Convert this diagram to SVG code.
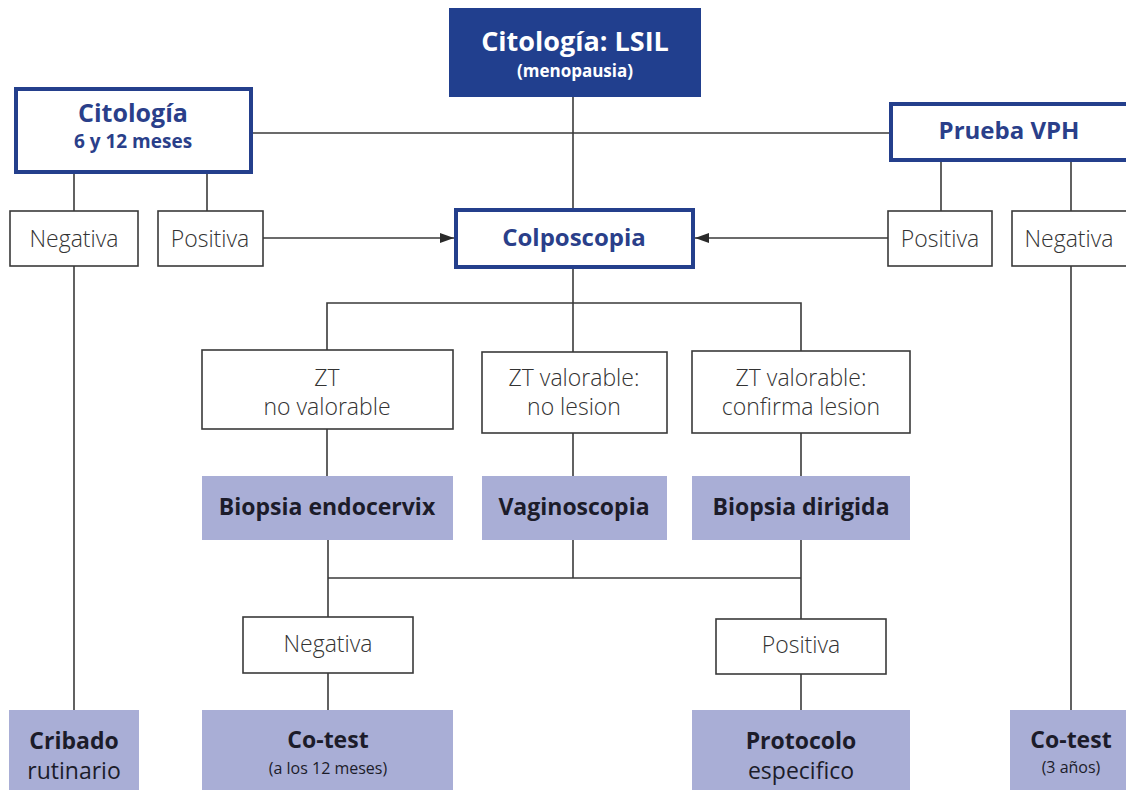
<svg xmlns="http://www.w3.org/2000/svg" width="1126" height="790" viewBox="0 0 1126 790">
  <style>
    .bg { fill: #ffffff; }
    .lead { fill: #213f8e; }
    .blue { fill: #ffffff; stroke: #243f8c; stroke-width: 4; }
    .plain { fill: #ffffff; stroke: #3a3a3a; stroke-width: 1.6; }
    .act { fill: #a9aed6; }
    .conn { fill: none; stroke: #3a3a3a; stroke-width: 1.6; }
    text { font-family: "Open Sans", "Noto Sans", "Liberation Sans", sans-serif; text-anchor: middle; }
    .tw { fill: #ffffff; font-weight: 700; }
    .tb { fill: #2a3f8a; font-weight: 700; }
    .tl { fill: #333333; font-weight: 300; font-size: 23px; }
    .td { fill: #1c1c2a; font-weight: 700; font-size: 23px; font-stretch: 93%; }
    .tr { fill: #1c1c2a; font-weight: 400; }
  </style>
  <defs>
    <marker id="arrow" viewBox="0 0 14 10" refX="14" refY="5" markerWidth="14" markerHeight="10" markerUnits="userSpaceOnUse" orient="auto">
      <path d="M0,0 L14,5 L0,10 Z" fill="#2a2a2a"/>
    </marker>
  </defs>
  <rect class="bg" x="0" y="0" width="1126" height="790"/>

  <g id="connectors">
    <!-- top level -->
    <line class="conn" x1="573" y1="97" x2="573" y2="208"/>
    <line class="conn" x1="253" y1="133" x2="889" y2="133"/>
    <!-- Citología branches -->
    <line class="conn" x1="74" y1="174" x2="74" y2="211"/>
    <line class="conn" x1="207" y1="174" x2="207" y2="211"/>
    <line class="conn" x1="74" y1="266" x2="74" y2="710"/>
    <line class="conn" x1="263" y1="238" x2="454" y2="238" marker-end="url(#arrow)"/>
    <!-- Prueba VPH branches -->
    <line class="conn" x1="941" y1="162" x2="941" y2="211"/>
    <line class="conn" x1="1071" y1="162" x2="1071" y2="211"/>
    <line class="conn" x1="1071" y1="266" x2="1071" y2="710"/>
    <line class="conn" x1="888" y1="238" x2="695" y2="238" marker-end="url(#arrow)"/>
    <!-- Colposcopia split -->
    <polyline class="conn" points="573,269 573,303"/>
    <polyline class="conn" points="327,350 327,303 801,303 801,351"/>
    <line class="conn" x1="573" y1="303" x2="573" y2="352"/>
    <!-- to procedures -->
    <line class="conn" x1="327" y1="429" x2="327" y2="476"/>
    <line class="conn" x1="573" y1="433" x2="573" y2="476"/>
    <line class="conn" x1="801" y1="433" x2="801" y2="476"/>
    <!-- merge of results -->
    <line class="conn" x1="573" y1="540" x2="573" y2="578"/>
    <line class="conn" x1="328" y1="540" x2="328" y2="617"/>
    <line class="conn" x1="801" y1="540" x2="801" y2="619"/>
    <line class="conn" x1="328" y1="578" x2="801" y2="578"/>
    <line class="conn" x1="328" y1="673" x2="328" y2="710"/>
    <line class="conn" x1="801" y1="674" x2="801" y2="710"/>
  </g>

  <g id="n-lsil">
    <rect class="lead" x="449" y="8" width="252" height="89"/>
    <text class="tw" x="575" y="51" font-size="27">Citología: LSIL</text>
    <text class="tw" x="575" y="77" font-size="17">(menopausia)</text>
  </g>

  <g id="n-citologia">
    <rect class="blue" x="16" y="89" width="235" height="83"/>
    <text class="tb" x="133" y="122" font-size="25">Citología</text>
    <text class="tb" x="133" y="148" font-size="19">6 y 12 meses</text>
  </g>

  <g id="n-vph">
    <rect class="blue" x="891" y="104" width="240" height="56"/>
    <text class="tb" x="1009" y="139" font-size="24">Prueba VPH</text>
  </g>

  <g id="n-cit-neg">
    <rect class="plain" x="10" y="211" width="128" height="55"/>
    <text class="tl" x="74" y="247">Negativa</text>
  </g>
  <g id="n-cit-pos">
    <rect class="plain" x="158" y="211" width="105" height="55"/>
    <text class="tl" x="210" y="247">Positiva</text>
  </g>
  <g id="n-vph-pos">
    <rect class="plain" x="888" y="211" width="104" height="55"/>
    <text class="tl" x="940" y="247">Positiva</text>
  </g>
  <g id="n-vph-neg">
    <rect class="plain" x="1012" y="211" width="120" height="55"/>
    <text class="tl" x="1069" y="247">Negativa</text>
  </g>

  <g id="n-colposcopia">
    <rect class="blue" x="456" y="210" width="237" height="57"/>
    <text class="tb" x="574" y="246" font-size="24">Colposcopia</text>
  </g>

  <g id="n-zt-no">
    <rect class="plain" x="202" y="350" width="251" height="79"/>
    <text class="tl" x="327" y="386">ZT</text>
    <text class="tl" x="327" y="415">no valorable</text>
  </g>
  <g id="n-zt-nolesion">
    <rect class="plain" x="482" y="352" width="185" height="81"/>
    <text class="tl" x="574" y="386">ZT valorable:</text>
    <text class="tl" x="574" y="415">no lesion</text>
  </g>
  <g id="n-zt-lesion">
    <rect class="plain" x="692" y="351" width="218" height="82"/>
    <text class="tl" x="801" y="386">ZT valorable:</text>
    <text class="tl" x="801" y="415">confirma lesion</text>
  </g>

  <g id="n-biopsia-endo">
    <rect class="act" x="202" y="476" width="251" height="64"/>
    <text class="td" x="327" y="515">Biopsia endocervix</text>
  </g>
  <g id="n-vaginoscopia">
    <rect class="act" x="482" y="476" width="185" height="64"/>
    <text class="td" x="574" y="515">Vaginoscopia</text>
  </g>
  <g id="n-biopsia-dir">
    <rect class="act" x="692" y="476" width="218" height="64"/>
    <text class="td" x="801" y="515">Biopsia dirigida</text>
  </g>

  <g id="n-res-neg">
    <rect class="plain" x="243" y="617" width="170" height="56"/>
    <text class="tl" x="328" y="652">Negativa</text>
  </g>
  <g id="n-res-pos">
    <rect class="plain" x="716" y="619" width="170" height="55"/>
    <text class="tl" x="801" y="653">Positiva</text>
  </g>

  <g id="n-cribado">
    <rect class="act" x="9" y="710" width="130" height="80"/>
    <text class="td" x="74" y="749">Cribado</text>
    <text class="tr" x="74" y="779" font-size="23">rutinario</text>
  </g>
  <g id="n-cotest-12">
    <rect class="act" x="202" y="710" width="251" height="80"/>
    <text class="td" x="328" y="748">Co-test</text>
    <text class="tr" x="328" y="774" font-size="16">(a los 12 meses)</text>
  </g>
  <g id="n-protocolo">
    <rect class="act" x="692" y="710" width="218" height="80"/>
    <text class="td" x="801" y="749">Protocolo</text>
    <text class="tr" x="801" y="779" font-size="23">especifico</text>
  </g>
  <g id="n-cotest-3">
    <rect class="act" x="1010" y="710" width="120" height="80"/>
    <text class="td" x="1071" y="748">Co-test</text>
    <text class="tr" x="1071" y="773" font-size="16">(3 años)</text>
  </g>
</svg>
